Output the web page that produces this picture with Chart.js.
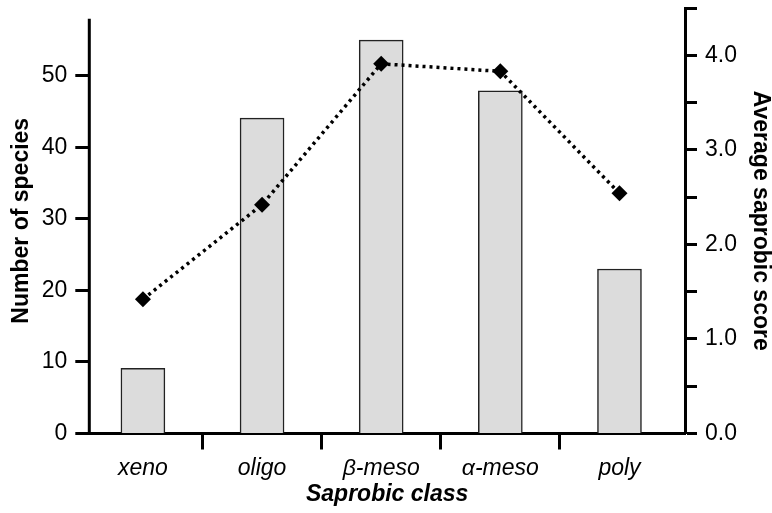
<!DOCTYPE html>
<html>
<head>
<meta charset="utf-8">
<title>Saprobic class</title>
<script src="https://cdn.jsdelivr.net/npm/chart.js@4.4.1/dist/chart.umd.min.js"></script>
<style>
  html, body { margin: 0; padding: 0; background: #fff; }
  #wrap { width: 772px; height: 513px; position: relative; }
</style>
</head>
<body>
<div id="wrap"><canvas id="chart"></canvas></div>
<script>
// values
var classes = ["xeno", "oligo", "\u03b2-meso", "\u03b1-meso", "poly"];
var speciesCounts = [9.1, 44.1, 55, 47.9, 23];
var avgScores = [1.42, 2.42, 3.91, 3.83, 2.54];
var countTicks = [0, 10, 20, 30, 40, 50];
var scoreTicks = [0, 0.5, 1, 1.5, 2, 2.5, 3, 3.5, 4, 4.5];
var classTicks = [0, 0.5, 1, 1.5, 2, 2.5, 3, 3.5, 4];

Chart.defaults.font.family = '"Liberation Sans", Arial, sans-serif';
Chart.defaults.color = "#000";

var tickFont = { size: 23 };
var titleFont = { size: 23, weight: "bold" };

// left axis line stops at 58 while the right one runs to the top
var leftAxisLine = {
    id: "leftAxisLine",
    afterDraw: function (chart) {
        var y = chart.scales.y;
        var ctx = chart.ctx;
        ctx.save();
        ctx.strokeStyle = "#000";
        ctx.lineWidth = 3;
        ctx.beginPath();
        ctx.moveTo(y.right, y.getPixelForValue(58));
        ctx.lineTo(y.right, y.getPixelForValue(0) + 1.5);
        ctx.stroke();
        ctx.restore();
    }
};

new Chart(document.getElementById("chart"), {
    type: "bar",
    data: {
        datasets: [
            {
                type: "line",
                yAxisID: "y1",
                order: 0,
                data: avgScores.map(function (v, i) { return { x: i, y: v }; }),
                borderColor: "#000",
                borderWidth: 3.5,
                borderDash: [3, 4],
                tension: 0,
                pointStyle: "rectRot",
                pointRadius: 8,
                pointBackgroundColor: "#000",
                pointBorderWidth: 0
            },
            {
                yAxisID: "y",
                order: 1,
                data: speciesCounts.map(function (v, i) { return { x: i, y: v }; }),
                backgroundColor: "#dcdcdc",
                borderColor: "#222",
                borderWidth: 1.5,
                barThickness: 44
            }
        ]
    },
    options: {
        responsive: true,
        maintainAspectRatio: false,
        animation: false,
        layout: { padding: { top: 6, left: 0, right: 0, bottom: 0 } },
        plugins: { legend: { display: false }, tooltip: { enabled: false } },
        scales: {
            x: {
                type: "linear",
                min: -0.45,
                max: 4.55,
                offset: false,
                afterBuildTicks: function (s) { s.ticks = classTicks.map(function (v) { return { value: v }; }); },
                afterFit: function (s) { s.height = 79.5; s.paddingLeft = 0; s.paddingRight = 0; },
                border: { display: true, color: "#000", width: 3 },
                grid: {
                    offset: false,
                    drawOnChartArea: false,
                    tickLength: 16,
                    tickWidth: 3,
                    tickColor: function (c) { return c.tick && c.tick.value % 1 ? "#000" : "rgba(0,0,0,0)"; }
                },
                ticks: {
                    autoSkip: false,
                    maxRotation: 0,
                    padding: 5,
                    font: { size: 23, style: "italic" },
                    callback: function (v) { return Number.isInteger(v) ? classes[v] : ""; }
                },
                title: {
                    display: true,
                    text: "Saprobic class",
                    font: { size: 23, weight: "bold", style: "italic" },
                    padding: { top: 0, bottom: 5 }
                }
            },
            y: {
                position: "left",
                min: 0,
                max: 59.5,
                afterBuildTicks: function (s) { s.ticks = countTicks.map(function (v) { return { value: v }; }); },
                afterFit: function (s) { s.width = 89.3; s.paddingTop = 0; s.paddingBottom = 0; },
                border: { display: false },
                grid: { drawOnChartArea: false, tickLength: 14, tickWidth: 3, tickColor: "#000" },
                ticks: { padding: 8, font: tickFont },
                title: { display: true, text: "Number of species", font: titleFont, padding: { top: 8, bottom: 0 } }
            },
            y1: {
                position: "right",
                min: 0,
                max: 4.5,
                afterBuildTicks: function (s) { s.ticks = scoreTicks.map(function (v) { return { value: v }; }); },
                afterFit: function (s) { s.width = 87; s.paddingTop = 0; s.paddingBottom = 0; },
                border: { display: true, color: "#000", width: 3 },
                grid: { drawOnChartArea: false, tickLength: 12, tickWidth: 3, tickColor: "#000" },
                ticks: {
                    padding: 8,
                    font: tickFont,
                    callback: function (v) { return Number.isInteger(v) ? v.toFixed(1) : ""; }
                },
                title: {
                    display: true,
                    text: "Average saprobic score",
                    font: { size: 23, weight: "bold", lineHeight: 1 },
                    padding: { top: 0, bottom: 0 }
                }
            }
        }
    },
    plugins: [leftAxisLine]
});
</script>
</body>
</html>
